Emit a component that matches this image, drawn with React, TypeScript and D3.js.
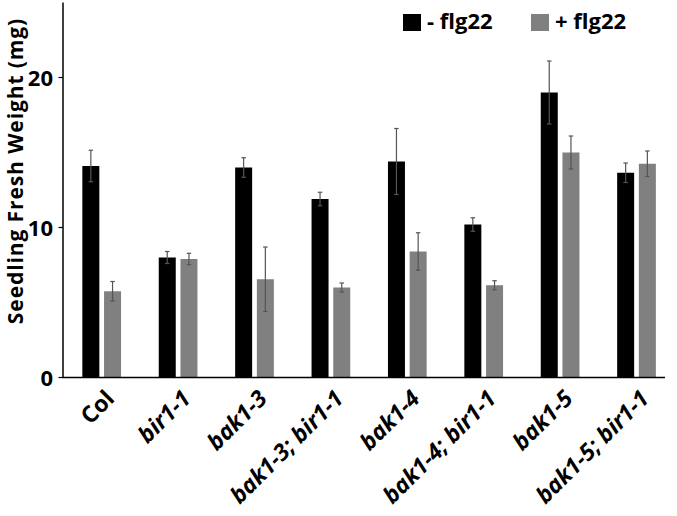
import React from "react";
import * as d3 from "d3";

const categories = ["Col", "bir1-1", "bak1-3", "bak1-3; bir1-1", "bak1-4", "bak1-4; bir1-1", "bak1-5", "bak1-5; bir1-1"];
const italicLabels = [false, true, true, true, true, true, true, true];
const minusFlg22 = [14.1, 8.0, 14.0, 11.9, 14.4, 10.2, 19.0, 13.65];
const minusErr = [1.05, 0.4, 0.65, 0.45, 2.2, 0.45, 2.1, 0.65];
const plusFlg22 = [5.75, 7.9, 6.55, 6.0, 8.4, 6.15, 15.0, 14.25];
const plusErr = [0.65, 0.38, 2.15, 0.3, 1.25, 0.3, 1.1, 0.85];
const seriesKeys = ["minus", "plus"];
const seriesLabels = ["- flg22", "+ flg22"];
const yTicks = [0, 10, 20];

const W = 677;
const H = 516;
const FONT = "'Open Sans', 'DejaVu Sans', sans-serif";
const colors: Record<string, string> = { minus: "#000000", plus: "#808080" };

export default function App() {
  const y = d3.scaleLinear().domain([0, 25]).range([377.5, 2.5]);
  const x0 = d3
    .scaleBand<string>()
    .domain(categories)
    .range([63.5, 674.7])
    .paddingInner(0.4934)
    .paddingOuter(0.2467);
  const x1 = d3.scaleBand<string>().domain(seriesKeys).range([0, x0.bandwidth()]).paddingInner(0.217);

  const data = categories.map((c, i) => ({
    cat: c,
    vals: [
      { key: "minus", v: minusFlg22[i], e: minusErr[i] },
      { key: "plus", v: plusFlg22[i], e: plusErr[i] },
    ],
  }));

  const capW = 4.5;

  return (
    <svg width={W} height={H} style={{ position: "absolute", left: 0, top: 0, background: "#fff" }} fontFamily={FONT}>
      {/* bars */}
      {data.map((d) => (
        <g key={d.cat} transform={`translate(${x0(d.cat)},0)`}>
          {d.vals.map((s) => {
            const bx = x1(s.key)!;
            const bw = x1.bandwidth();
            const cx = bx + bw / 2;
            return (
              <g key={s.key}>
                <rect x={bx} y={y(s.v)} width={bw} height={y(0) - y(s.v)} fill={colors[s.key]} />
                <line x1={cx} x2={cx} y1={y(s.v + s.e)} y2={y(s.v - s.e)} stroke="#555" strokeWidth={1.2} />
                <line x1={cx - capW / 2} x2={cx + capW / 2} y1={y(s.v + s.e)} y2={y(s.v + s.e)} stroke="#555" strokeWidth={1.2} />
                <line x1={cx - capW / 2} x2={cx + capW / 2} y1={y(s.v - s.e)} y2={y(s.v - s.e)} stroke="#555" strokeWidth={1.2} />
              </g>
            );
          })}
        </g>
      ))}

      {/* y axis */}
      <line x1={63} x2={63} y1={y(25)} y2={y(0)} stroke="#000" strokeWidth={1.5} />
      {yTicks.map((t) => (
        <g key={t}>
          <line x1={58.5} x2={63} y1={y(t)} y2={y(t)} stroke="#000" strokeWidth={1.2} />
          <text x={53} y={y(t)} dy="0.38em" textAnchor="end" fontSize={22} fontWeight="bold" fill="#000">
            {t}
          </text>
        </g>
      ))}
      <text
        transform={`translate(22.5,${171}) rotate(-90)`}
        textAnchor="middle"
        fontSize={21}
        letterSpacing={0.9}
        fontWeight="bold"
        fill="#000"
      >
        Seedling Fresh Weight (mg)
      </text>

      {/* x axis */}
      <line x1={62.3} x2={665} y1={y(0)} y2={y(0)} stroke="#000" strokeWidth={1.5} />
      {categories.map((c, i) => {
        const cx = x0(c)! + x0.bandwidth() / 2;
        return (
          <text
            key={c}
            transform={`translate(${cx + 14},${400}) rotate(-45)`}
            textAnchor="end"
            fontSize={23}
            fontWeight="bold"
            fontStyle={italicLabels[i] ? "italic" : "normal"}
            fill="#000"
          >
            {c}
          </text>
        );
      })}

      {/* legend */}
      {seriesKeys.map((k, i) => {
        const lx = i === 0 ? 403 : 531;
        return (
          <g key={k}>
            <rect x={lx} y={14} width={18} height={17} fill={colors[k]} />
            <text x={lx + 24} y={29} fontSize={22} fontWeight="bold" fill="#000">
              {seriesLabels[i]}
            </text>
          </g>
        );
      })}
    </svg>
  );
}
